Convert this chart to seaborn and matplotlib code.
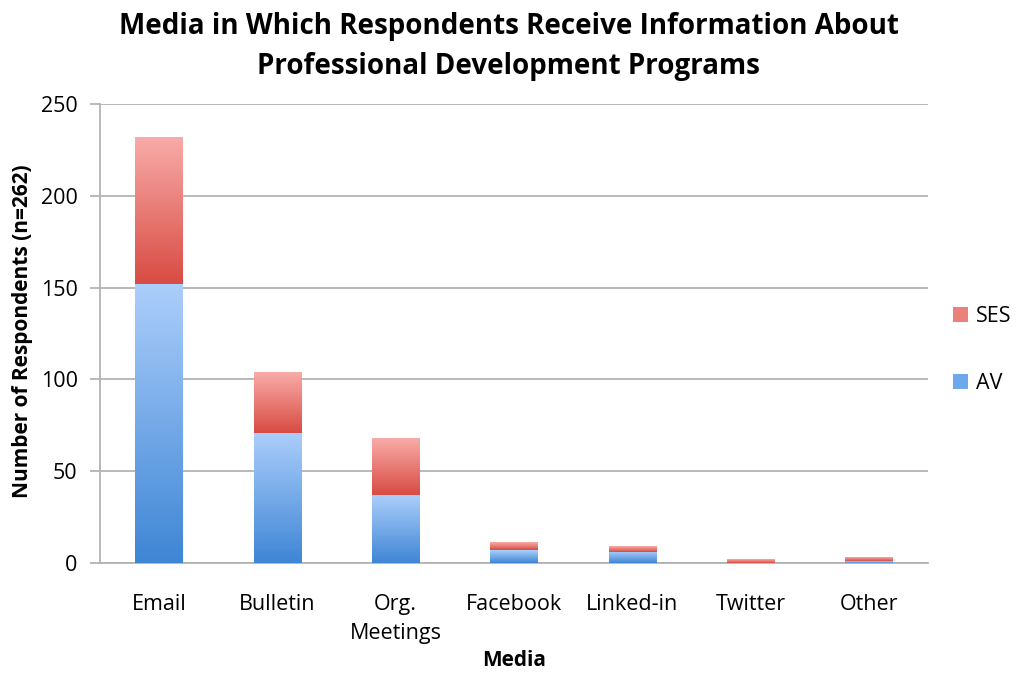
import numpy as np
import pandas as pd
import matplotlib
matplotlib.use("Agg")
import matplotlib.pyplot as plt
from matplotlib.colors import to_rgba
from matplotlib.patches import Patch
import seaborn as sns

media = ["Email", "Bulletin", "Org.\nMeetings", "Facebook", "Linked-in", "Twitter", "Other"]
av = [152, 71, 37, 7, 6, 0, 1]
ses = [80, 33, 31, 4, 3, 2, 2]
series_names = ["SES", "AV"]
yticks = [0, 50, 100, 150, 200, 250]

sns.set_theme(style="white")
plt.rcParams["font.family"] = ["Open Sans", "DejaVu Sans"]
plt.rcParams["text.color"] = "black"

df = pd.DataFrame({"Media": media, "AV": av, "SES": ses})

fig = plt.figure(figsize=(10.17, 6.77), dpi=100)
ax = fig.add_axes([0.0983, 0.1684, 0.8142, 0.6776])

sns.barplot(data=df, x="Media", y="AV", ax=ax, width=0.4, color="#6aa6ea")
n = len(ax.patches)
sns.barplot(data=df, x="Media", y="SES", ax=ax, width=0.4, color="#e8716b",
            bottom=df["AV"].to_numpy())

av_bars = ax.patches[:n]
ses_bars = ax.patches[n:]

blue_lo, blue_hi = "#3f86d5", "#abcefb"
red_lo, red_hi = "#d84c43", "#f8aba8"


def gradient(lo, hi, steps=64):
    a = np.array(to_rgba(lo))
    b = np.array(to_rgba(hi))
    t = np.linspace(0, 1, steps)[:, None]
    return (a + (b - a) * t)[:, None, :]


for bars, lo, hi in ((av_bars, blue_lo, blue_hi), (ses_bars, red_lo, red_hi)):
    for p in bars:
        x0, y0 = p.get_x(), p.get_y()
        w, h = p.get_width(), p.get_height()
        p.set_facecolor("none")
        p.set_edgecolor("none")
        if h <= 0:
            continue
        ax.imshow(gradient(lo, hi), extent=[x0, x0 + w, y0, y0 + h],
                  origin="lower", aspect="auto", zorder=3, interpolation="bilinear")

ax.set_xlim(-0.5, len(media) - 0.5)
ax.set_ylim(0, 250)
ax.set_yticks(yticks)
ax.set_yticklabels([str(v) for v in yticks])

grid_c = "#b3b3b3"
ax.yaxis.grid(True, color=grid_c, linewidth=1.3, zorder=0)
ax.set_axisbelow(True)
for side in ("top", "right"):
    ax.spines[side].set_visible(False)
for side in ("left", "bottom"):
    ax.spines[side].set_color(grid_c)
    ax.spines[side].set_linewidth(1.3)

ax.set_xticks(np.arange(len(media)))
ax.set_xticklabels(media, fontsize=15.5, color="black", linespacing=1.5)
ax.set_xticks(np.arange(-0.5, len(media)), minor=True)
ax.tick_params(axis="x", which="major", length=0, pad=22)
ax.tick_params(axis="x", which="minor", length=8, width=1.3, color=grid_c, direction="out")
ax.tick_params(axis="y", which="major", length=7, width=1.3, color=grid_c,
               direction="out", labelsize=15.5, labelcolor="black", pad=9, left=True)

ax.set_xlabel("Media", fontsize=15, fontweight="bold", color="black", va="top")
ax.xaxis.set_label_coords(0.5, -0.19)
ax.set_ylabel("Number of Respondents (n=262)", fontsize=15, fontweight="bold",
              color="black", va="center")
ax.yaxis.set_label_coords(-0.094, 0.505)

fig.suptitle("Media in Which Respondents Receive Information About\nProfessional Development Programs",
             fontsize=20, fontweight="bold", x=0.5, y=0.982, linespacing=1.5, color="black")

handles = [Patch(facecolor="#ec807a", edgecolor="none"),
           Patch(facecolor="#6ea8ec", edgecolor="none")]
fig.legend(handles, series_names, loc="center left", bbox_to_anchor=(0.937, 0.483),
           frameon=False, fontsize=15.5, handlelength=0.7, handleheight=0.7,
           handletextpad=0.35, labelspacing=2.15, borderpad=0, borderaxespad=0)

fig.savefig("out.png", dpi=100)
